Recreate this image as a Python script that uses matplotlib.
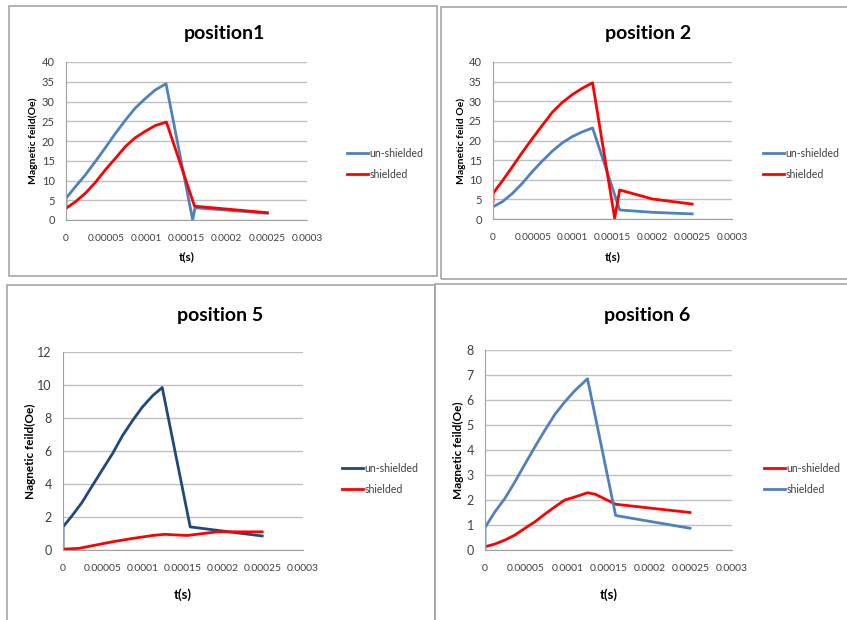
import matplotlib
matplotlib.use("Agg")
import matplotlib.pyplot as plt
from matplotlib.patches import Rectangle

plt.rcParams['font.family'] = ['Lato', 'DejaVu Sans']

BLUE = '#4F81BD'
NAVY = '#1F497D'
RED = '#FF0000'
GRID = '#C0C0C0'
TXT = '#404040'

# ---- data ----
# position 1
p1_un_t = [0, 0, 0.0000116, 0.000024, 0.0000365, 0.000049, 0.0000614, 0.000074, 0.000086, 0.000099,
           0.000111, 0.0001245, 0.0001577, 0.0001606, 0.0002506]
p1_un_v = [3.0, 5.5, 8.4, 11.4, 14.8, 18.3, 21.9, 25.3, 28.3, 30.8, 32.9, 34.5, 0.0, 3.1, 1.7]
p1_sh_t = [0, 0.0000116, 0.000024, 0.0000365, 0.000049, 0.0000614, 0.000074, 0.000086, 0.000099,
           0.000111, 0.000125, 0.00016, 0.0002506]
p1_sh_v = [2.95, 4.6, 6.75, 9.5, 12.7, 15.6, 18.6, 20.8, 22.5, 23.9, 24.8, 3.5, 1.85]

# position 2
p2_un_t = [0, 0.0000117, 0.0000243, 0.0000368, 0.0000494, 0.000062, 0.0000745, 0.000087, 0.0000996,
           0.000112, 0.000125, 0.000159, 0.0002, 0.00025]
p2_un_v = [3.1, 4.4, 6.5, 9.1, 12.1, 14.8, 17.3, 19.4, 21.0, 22.2, 23.2, 2.3, 1.7, 1.3]
p2_sh_t = [0, 0, 0.0000117, 0.0000243, 0.0000368, 0.0000494, 0.000062, 0.0000745, 0.000087, 0.0000996,
           0.000112, 0.000125, 0.0001527, 0.000159, 0.0002, 0.00025]
p2_sh_v = [4.4, 6.5, 9.7, 13.3, 17.0, 20.5, 23.9, 27.2, 29.7, 31.7, 33.3, 34.7, 0.2, 7.4, 5.1, 3.8]

# position 5
p5_un_t = [0, 0, 0.0000117, 0.000024, 0.0000367, 0.000049, 0.000062, 0.000074, 0.000087, 0.000099,
           0.000112, 0.000124, 0.000159, 0.000249]
p5_un_v = [0.0, 1.4, 2.1, 2.9, 3.9, 4.85, 5.85, 6.9, 7.85, 8.65, 9.35, 9.85, 1.4, 0.85]
p5_sh_t = [0, 0.00002, 0.0000367, 0.000062, 0.000087, 0.000112, 0.000127, 0.000155, 0.0001925, 0.000249]
p5_sh_v = [0.05, 0.1, 0.26, 0.5, 0.7, 0.88, 0.95, 0.88, 1.1, 1.1]

# position 6 (colours swapped in the original legend)
p6_un_t = [0, 0.0000121, 0.0000243, 0.0000364, 0.0000486, 0.0000607, 0.0000729, 0.000085, 0.000097,
           0.000109, 0.0001245, 0.000134, 0.0001587, 0.000249]
p6_un_v = [0.13, 0.24, 0.4, 0.6, 0.87, 1.13, 1.44, 1.73, 2.0, 2.12, 2.29, 2.23, 1.83, 1.5]
p6_sh_t = [0, 0, 0.0000121, 0.0000243, 0.0000364, 0.0000486, 0.0000607, 0.0000729, 0.000085, 0.000097,
           0.000109, 0.0001245, 0.0001587, 0.000249]
p6_sh_v = [0.0, 0.9, 1.53, 2.07, 2.73, 3.44, 4.13, 4.8, 5.43, 5.93, 6.37, 6.85, 1.38, 0.87]

x_ticks = [0, 0.00005, 0.0001, 0.00015, 0.0002, 0.00025, 0.0003]
x_labels = ['0', '0.00005', '0.0001', '0.00015', '0.0002', '0.00025', '0.0003']

W, H = 847, 620
fig = plt.figure(figsize=(W / 100, H / 100), dpi=100)


def fx(px):
    return px / W


def fy(py):
    return 1 - py / H


# chart frames
for (x0, y0, x1, y1) in [(9, 6, 437, 276), (441, 7, 860, 279), (7, 285, 435, 640), (435, 284, 860, 640)]:
    fig.patches.append(Rectangle((fx(x0), fy(y1)), fx(x1 - x0), (y1 - y0) / H,
                                 transform=fig.transFigure, fill=False,
                                 edgecolor='#A6A6A6', linewidth=1.2))


def panel(box, title, title_xy, series, ymax, ystep, ylabel, ylab_x, xlab_y, leg_xy, tick_fs, lab_fs, ytick_fs):
    x0, y0, x1, y1 = box
    ax = fig.add_axes([fx(x0), fy(y1), fx(x1 - x0), (y1 - y0) / H])
    for t, v, c, name in series:
        ax.plot(t, v, color=c, linewidth=2.0, label=name, solid_joinstyle='round')
    ax.set_xlim(0, 0.0003)
    ax.set_ylim(0, ymax)
    ax.set_xticks(x_ticks)
    ax.set_xticklabels(x_labels)
    ax.set_yticks([ystep * i for i in range(int(round(ymax / ystep)) + 1)])
    ax.yaxis.grid(True, color=GRID, linewidth=1.0)
    ax.set_axisbelow(True)
    for s in ['top', 'right']:
        ax.spines[s].set_visible(False)
    ax.spines['left'].set_color('#A0A0A0')
    ax.spines['bottom'].set_color('#A0A0A0')
    ax.tick_params(axis='x', length=0, labelsize=tick_fs, colors=TXT, pad=10)
    ax.tick_params(axis='y', length=0, labelsize=ytick_fs, colors=TXT, pad=8)
    fig.text(fx(title_xy[0]), fy(title_xy[1]), title, ha='center', va='center',
             fontsize=14, fontweight='bold', color='black')
    fig.text(fx(ylab_x), fy((y0 + y1) / 2), ylabel, rotation=90, ha='center', va='center',
             fontsize=lab_fs, fontweight='bold', color='black')
    fig.text(fx((x0 + x1) / 2), fy(xlab_y), 't(s)', ha='center', va='center',
             fontsize=lab_fs + 1, fontweight='bold', color='black')
    ax.legend(loc='center left', bbox_to_anchor=(fx(leg_xy[0]), fy(leg_xy[1])),
              bbox_transform=fig.transFigure, frameon=False, fontsize=7.6,
              handlelength=2.0, handletextpad=0.1, labelspacing=0.95, borderpad=0,
              labelcolor=TXT)
    return ax


panel((66, 62, 307, 220), 'position1', (224, 33),
      [(p1_un_t, p1_un_v, BLUE, 'un-shielded'), (p1_sh_t, p1_sh_v, RED, 'shielded')],
      40, 5, 'Magnetic feild(Oe)', 33, 257, (342, 164), 7.3, 7.5, 8)

panel((493, 62, 732, 219), 'position 2', (648, 33),
      [(p2_un_t, p2_un_v, BLUE, 'un-shielded'), (p2_sh_t, p2_sh_v, RED, 'shielded')],
      40, 5, 'Magnetic feild Oe)', 461, 257, (758, 164), 7.3, 7.5, 8)

panel((63, 352, 303, 550), 'position 5', (220, 315),
      [(p5_un_t, p5_un_v, NAVY, 'un-shielded'), (p5_sh_t, p5_sh_v, RED, 'shielded')],
      12, 2, 'Nagnetic feild(Oe)', 30, 595, (337, 479), 7.5, 8.5, 9)

panel((485, 350, 732, 550), 'position 6', (647, 315),
      [(p6_un_t, p6_un_v, RED, 'un-shielded'), (p6_sh_t, p6_sh_v, BLUE, 'shielded')],
      8, 1, 'Magnetic feild(Oe)', 458, 595, (759, 479), 7.5, 8.5, 9)

fig.savefig('out.png', dpi=100)
